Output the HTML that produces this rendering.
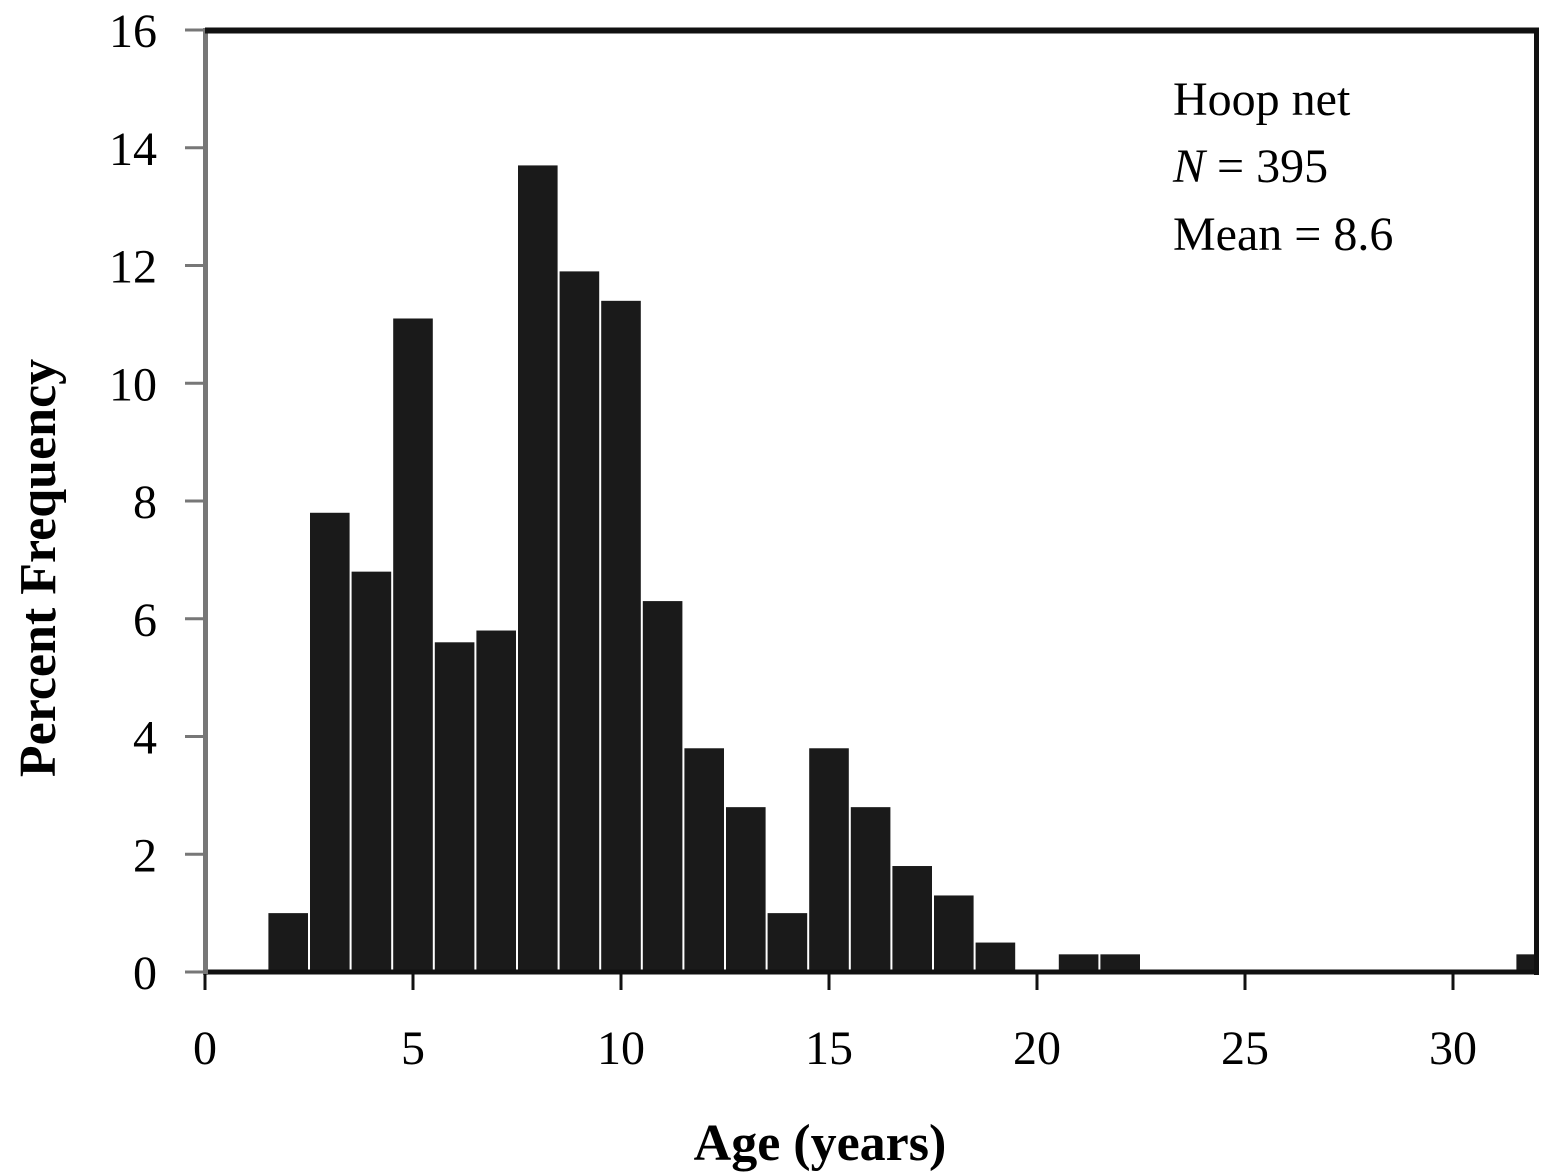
<!DOCTYPE html>
<html><head><meta charset="utf-8"><style>body{margin:0;background:#fff}svg{display:block}</style></head>
<body>
<svg width="1541" height="1175" xmlns="http://www.w3.org/2000/svg" font-family="Liberation Serif, serif">
<g id="bars"></g>
<g id="axes"></g>
<text x="1173" y="115" font-size="48">Hoop net</text>
<text x="1173" y="182" font-size="48"><tspan font-style="italic">N</tspan> = 395</text>
<text x="1173" y="250" font-size="48">Mean = 8.6</text>
<text x="820" y="1160" font-size="52" font-weight="bold" text-anchor="middle">Age (years)</text>
<text transform="translate(55,568) rotate(-90)" font-size="52" font-weight="bold" text-anchor="middle">Percent Frequency</text>
<script>
const ages=[2,3,4,5,6,7,8,9,10,11,12,13,14,15,16,17,18,19,20,21,22,32];
const percents=[1.0,7.8,6.8,11.1,5.6,5.8,13.7,11.9,11.4,6.3,3.8,2.8,1.0,3.8,2.8,1.8,1.3,0.5,0,0.3,0.3,0.3];
const xTicks=[0,5,10,15,20,25,30];
const yTicks=[0,2,4,6,8,10,12,14,16];
const NS="http://www.w3.org/2000/svg";
const x=v=>205+v*41.6, y=v=>972-v*58.875;
const bg=document.getElementById('bars'), ag=document.getElementById('axes');
function mk(tag,at,parent){const e=document.createElementNS(NS,tag);for(const k in at)e.setAttribute(k,at[k]);parent.appendChild(e);return e;}
ages.forEach((a,i)=>{if(percents[i]<=0)return;
 const x0=x(a-0.5)+1, x1=Math.min(x(a+0.5)-1,1539);
 const r=mk('rect',{x:x0,y:y(percents[i]),width:x1-x0,height:y(0)-y(percents[i]),fill:'#1a1a1a'},bg);
 
 });
let l=mk('line',{x1:205,y1:972,x2:1539,y2:972,stroke:'#111','stroke-width':5},ag);

l=mk('line',{x1:205.5,y1:28,x2:205.5,y2:975,stroke:'#777','stroke-width':5},ag);

l=mk('line',{x1:205,y1:30.5,x2:1539,y2:30.5,stroke:'#111','stroke-width':6},ag);

l=mk('line',{x1:1536.5,y1:28,x2:1536.5,y2:975,stroke:'#111','stroke-width':5},ag);

xTicks.forEach(t=>{const k=mk('line',{x1:x(t),y1:974,x2:x(t),y2:990,stroke:'#111','stroke-width':3},ag);
 
 const tx=mk('text',{x:x(t),y:1064,'font-size':48,'text-anchor':'middle'},ag);tx.textContent=t;
 });
yTicks.forEach(t=>{const k=mk('line',{x1:185,y1:y(t),x2:205,y2:y(t),stroke:'#777','stroke-width':3},ag);
 
 const tx=mk('text',{x:157,y:y(t)+17,'font-size':48,'text-anchor':'end'},ag);tx.textContent=t;
 });
</script>
</svg>
</body></html>
